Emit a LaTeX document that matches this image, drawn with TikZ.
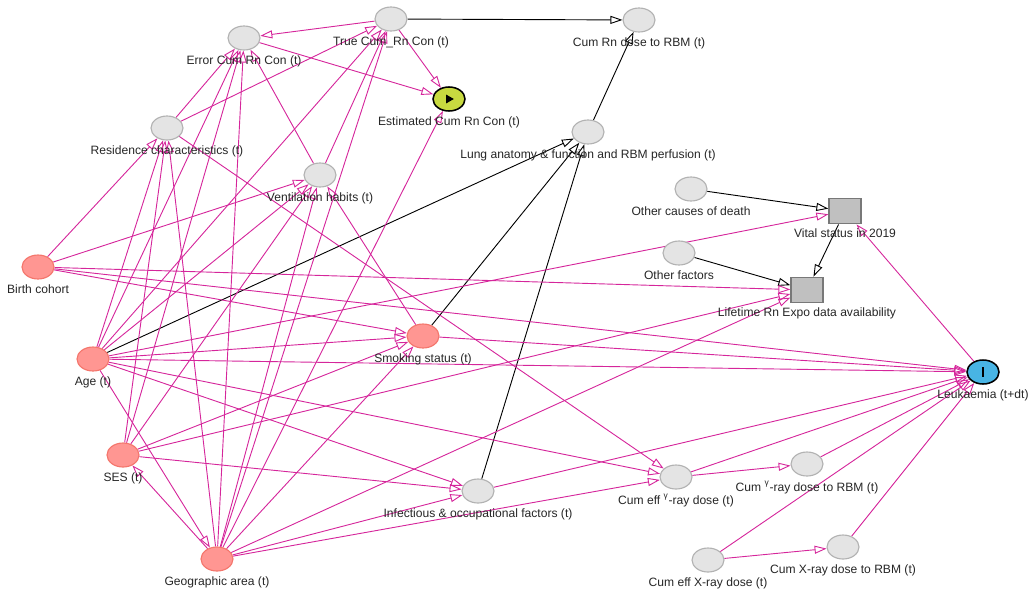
\documentclass[tikz,border=0pt]{standalone}
\usepackage{fontspec}
\setmainfont{Liberation Sans}
\usetikzlibrary{shapes.geometric,arrows.meta,backgrounds}
\definecolor{edgepink}{RGB}{213,38,155}
\definecolor{nodefill}{RGB}{228,228,228}
\definecolor{nodeline}{RGB}{178,178,178}
\definecolor{redfill}{RGB}{255,150,146}
\definecolor{redline}{RGB}{244,118,108}
\definecolor{boxfill}{RGB}{192,192,192}
\definecolor{boxline}{RGB}{120,120,120}
\definecolor{expofill}{RGB}{200,218,64}
\definecolor{outfill}{RGB}{72,180,228}

\tikzset{
  latent/.style={ellipse, draw=nodeline, fill=nodefill, line width=0.8pt,
    minimum width=8mm, minimum height=6mm, inner sep=0pt},
  adjusted/.style={latent, draw=redline, fill=redfill},
  selected/.style={rectangle, draw=boxline, fill=boxfill, line width=0.9pt,
    minimum width=8mm, minimum height=6.4mm, inner sep=0pt},
  lab/.style={font=\fontsize{8.6}{10}\selectfont, text=black!85, inner sep=1pt},
  biasing/.style={edgepink, line width=0.65pt, -{Triangle[open,length=3mm,width=2mm]}},
  causal/.style={black, line width=0.65pt, -{Triangle[open,length=3mm,width=2mm]}},
}

\begin{document}
\begin{tikzpicture}[x=0.25mm,y=-0.25mm]
  \useasboundingbox (0,0) rectangle (1032,593);
  % radon measurement
  \node[latent, label={[lab,label distance=0.8mm]below:True Cum\_Rn Con (t)}] (trueRn) at (391,19) {};
  \node[latent, label={[lab,label distance=0.8mm]below:Error Cum Rn Con (t)}] (errRn) at (244,38) {};
  \node[latent, label={[lab,label distance=0.8mm]below:Cum Rn dose to RBM (t)}] (rnRBM) at (639,20) {};
  \node[latent, fill=expofill, draw=black, line width=1.1pt,
    label={[lab,label distance=0.8mm]below:Estimated Cum Rn Con (t)}] (estRn) at (449,99) {};
  \node[latent, label={[lab,label distance=0.8mm]below:Residence characteristics (t)}] (resid) at (167,128) {};
  \node[latent, label={[lab,label distance=0.8mm]below:Lung anatomy \& function and RBM perfusion (t)}] (lung) at (588,132) {};
  \node[latent, label={[lab,label distance=0.8mm]below:Ventilation habits (t)}] (vent) at (320,175) {};
  % selection
  \node[latent, label={[lab,label distance=0.8mm]below:Other causes of death}] (othDeath) at (691,189) {};
  \node[selected, label={[lab,label distance=0.6mm]below:Vital status in 2019}] (vital) at (845,211) {};
  \node[latent, label={[lab,label distance=0.8mm]below:Other factors}] (othFact) at (679,253) {};
  \node[selected, label={[lab,label distance=0.6mm]below:Lifetime Rn Expo data availability}] (lifeExpo) at (807,290) {};
  % confounders
  \node[adjusted, label={[lab,label distance=0.8mm]below:Birth cohort}] (birth) at (38,267) {};
  \node[adjusted, label={[lab,label distance=0.8mm]below:Smoking status (t)}] (smoking) at (423,336) {};
  \node[adjusted, label={[lab,label distance=0.8mm]below:Age (t)}] (age) at (93,359) {};
  \node[adjusted, label={[lab,label distance=0.8mm]below:SES (t)}] (ses) at (123,455) {};
  \node[adjusted, label={[lab,label distance=0.8mm]below:Geographic area (t)}] (geo) at (217,559) {};
  % outcome and doses
  \node[latent, fill=outfill, draw=black, line width=1.1pt,
    label={[lab,label distance=0.8mm]below:Leukaemia (t+dt)}] (leuk) at (983,372) {};
  \node[latent, label={[lab,label distance=0.8mm]below:Infectious \& occupational factors (t)}] (infect) at (478,491) {};
  \node[latent, label={[lab,label distance=0.8mm]below:Cum eff \textsuperscript{γ}-ray dose (t)}] (gEff) at (676,477) {};
  \node[latent, label={[lab,label distance=0.8mm]below:Cum \textsuperscript{γ}-ray dose to RBM (t)}] (gRBM) at (807,464) {};
  \node[latent, label={[lab,label distance=0.8mm]below:Cum eff X-ray dose (t)}] (xEff) at (708,560) {};
  \node[latent, label={[lab,label distance=0.8mm]below:Cum X-ray dose to RBM (t)}] (xRBM) at (843,547) {};
  % symbols
  \fill ([xshift=-0.7mm,yshift=1.1mm]estRn.center) -- ++(0,-2.2mm) -- ++(1.9mm,1.1mm) -- cycle;
  \fill ([xshift=-0.35mm,yshift=-1.2mm]leuk.center) rectangle ++(0.7mm,2.4mm);

  \begin{scope}[on background layer]
  % black edges
  \draw[causal] (trueRn) -- (rnRBM);
  \draw[causal] (lung) -- (rnRBM);
  \draw[causal] (age) -- (lung);
  \draw[causal] (smoking) -- (lung);
  \draw[causal] (infect) -- (lung);
  \draw[causal] (othDeath) -- (vital);
  \draw[causal] (othFact) -- (lifeExpo);
  \draw[causal] (vital) -- (lifeExpo);
  % radon
  \draw[biasing] (trueRn) -- (errRn);
  \draw[biasing] (trueRn) -- (estRn);
  \draw[biasing] (errRn) -- (estRn);
  \draw[biasing] (resid) -- (trueRn);
  \draw[biasing] (resid) -- (errRn);
  \draw[biasing] (resid) -- (gEff);
  \draw[biasing] (vent) -- (trueRn);
  \draw[biasing] (vent) -- (errRn);
  % birth cohort
  \draw[biasing] (birth) -- (resid);
  \draw[biasing] (birth) -- (vent);
  \draw[biasing] (birth) -- (smoking);
  \draw[biasing] (birth) -- (lifeExpo);
  \draw[biasing] (birth) -- (leuk);
  % age
  \draw[biasing] (age) -- (errRn);
  \draw[biasing] (age) -- (trueRn);
  \draw[biasing] (age) -- (resid);
  \draw[biasing] (age) -- (vent);
  \draw[biasing] (age) -- (smoking);
  \draw[biasing] (age) -- (vital);
  \draw[biasing] (age) -- (leuk);
  \draw[biasing] (age) -- (geo);
  \draw[biasing] (age) -- (infect);
  \draw[biasing] (age) -- (gEff);
  % SES
  \draw[biasing] (ses) -- (errRn);
  \draw[biasing] (ses) -- (resid);
  \draw[biasing] (ses) -- (vent);
  \draw[biasing] (ses) -- (smoking);
  \draw[biasing] (ses) -- (infect);
  \draw[biasing] (ses) -- (lifeExpo);
  % geographic area
  \draw[biasing] (geo) -- (ses);
  \draw[biasing] (geo) -- (errRn);
  \draw[biasing] (geo) -- (trueRn);
  \draw[biasing] (geo) -- (resid);
  \draw[biasing] (geo) -- (vent);
  \draw[biasing] (geo) -- (estRn);
  \draw[biasing] (geo) -- (smoking);
  \draw[biasing] (geo) -- (infect);
  \draw[biasing] (geo) -- (gEff);
  \draw[biasing] (geo) -- (lifeExpo);
  % smoking and others
  \draw[biasing] (smoking) -- (vent);
  \draw[biasing] (smoking) -- (leuk);
  \draw[biasing] (infect) -- (leuk);
  \draw[biasing] (leuk) -- (vital);
  % doses
  \draw[biasing] (gEff) -- (gRBM);
  \draw[biasing] (gEff) -- (leuk);
  \draw[biasing] (gRBM) -- (leuk);
  \draw[biasing] (xEff) -- (xRBM);
  \draw[biasing] (xEff) -- (leuk);
  \draw[biasing] (xRBM) -- (leuk);
  \end{scope}
\end{tikzpicture}
\end{document}
